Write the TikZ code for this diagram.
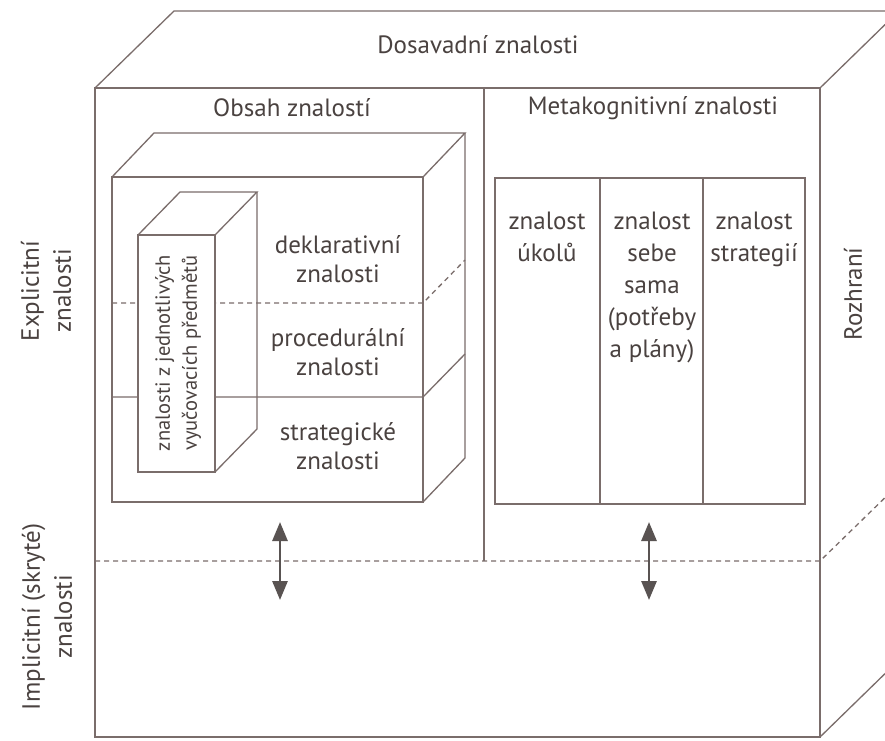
\documentclass[tikz,border=0pt]{standalone}
\usepackage{fontspec}
\setmainfont{PT Sans}
\usetikzlibrary{arrows.meta}
\definecolor{ln}{HTML}{7A6D6B}
\definecolor{tx}{HTML}{4A4240}
\definecolor{ar}{HTML}{595352}
\begin{document}
\begin{tikzpicture}[x=1pt,y=-1pt,
  edge/.style={draw=ln, line width=1.3pt, line join=miter},
  hidden/.style={edge, dash pattern=on 5pt off 4pt},
  lbl/.style={text=tx, font=\fontsize{25}{29}\selectfont, align=center, inner sep=0pt},
  collbl/.style={lbl, font=\fontsize{25}{32}\selectfont, anchor=north},
  sidelbl/.style={lbl, rotate=90, font=\fontsize{25}{32}\selectfont},
  both/.style={draw=ar, line width=2.8pt, {Triangle[length=19pt,width=15pt]}-{Triangle[length=19pt,width=15pt]}}]
\useasboundingbox (0,0) rectangle (885,740);
\clip (0,0) rectangle (885,740);
\fill[white] (0,0) rectangle (885,740);

% outer cube
\coordinate (OA) at (95,88);
\coordinate (OB) at (820,88);
\coordinate (OC) at (820,737);
\coordinate (OD) at (95,737);
\coordinate (OAb) at (174,11);
\coordinate (OBb) at (899,11);
\coordinate (OCb) at (899,660);
\draw[edge] (OD) -- (OA) -- (OB) -- (OC) -- cycle;
\draw[edge] (OA) -- (OAb) -- (OBb) -- (OB);
\draw[edge] (OBb) -- (OCb) -- (OC);
\coordinate (HL) at (95,561);
\coordinate (HR) at (820,561);
\draw[hidden] (HL) -- (HR) -- ++(79,-77);
\coordinate (DT) at (484,88);
\coordinate (DB) at (484,561);
\draw[edge] (DT) -- (DB);

% inner cube (Obsah znalosti)
\coordinate (IA) at (112,177);
\coordinate (IB) at (423,177);
\coordinate (IC) at (423,502);
\coordinate (ID) at (112,502);
\draw[edge] (IA) rectangle (IC);
\draw[edge] (IA) -- ++(42,-44) coordinate (IAb) -- (465,133) coordinate (IBb) -- (IB);
\draw[edge] (IBb) -- (465,458) -- (IC);
\draw[hidden] (112,303) -- (423,303) -- ++(42,-43);
\draw[edge] (112,397) -- (423,397) -- ++(42,-43);

% tall box
\coordinate (TA) at (138,235);
\coordinate (TB) at (215,235);
\coordinate (TC) at (215,472);
\filldraw[edge, fill=white] (TA) rectangle (TC);
\draw[edge] (TA) -- ++(42,-43) -- (257,192) coordinate (TBb) -- (TB);
\draw[edge] (TBb) -- (257,429) -- (TC);

% metacognitive box
\draw[edge] (495,178) rectangle (805,504);
\draw[edge] (600,178) -- (600,504);
\draw[edge] (703,178) -- (703,504);

% arrows
\coordinate (a1t) at (280,522);
\coordinate (a1b) at (280,600);
\coordinate (a2t) at (649,522);
\coordinate (a2b) at (649,600);
\draw[both] (a1t) -- (a1b);
\draw[both] (a2t) -- (a2b);

% labels
\node[lbl] (dos) at (478,45) {Dosavadní znalosti};
\node[lbl] (obs) at (292,108) {Obsah znalostí};
\node[lbl] (meta) at (653,108) {Metakognitivní znalosti};
\node[lbl] (dekl) at (338,259) {deklarativní\\znalosti};
\node[lbl] (proc) at (338,352) {procedurální\\znalosti};
\node[lbl] (strat) at (338,446) {strategické\\znalosti};
\node[collbl] (c1) at (547,212) {znalost\\úkolů};
\node[collbl] (c2) at (652,212) {znalost\\sebe\\sama\\(potřeby\\a plány)};
\node[collbl] (c3) at (754,212) {znalost\\strategií};
\node[sidelbl] (expl) at (46,291) {Explicitní\\znalosti};
\node[sidelbl] (impl) at (47,617) {Implicitní (skryté)\\znalosti};
\node[sidelbl] (roz) at (853,294) {Rozhraní};
\node[sidelbl, font=\fontsize{20.5}{27}\selectfont] (tall) at (178,353) {znalosti z jednotlivých\\vyučovacích předmětů};
\end{tikzpicture}
\end{document}
